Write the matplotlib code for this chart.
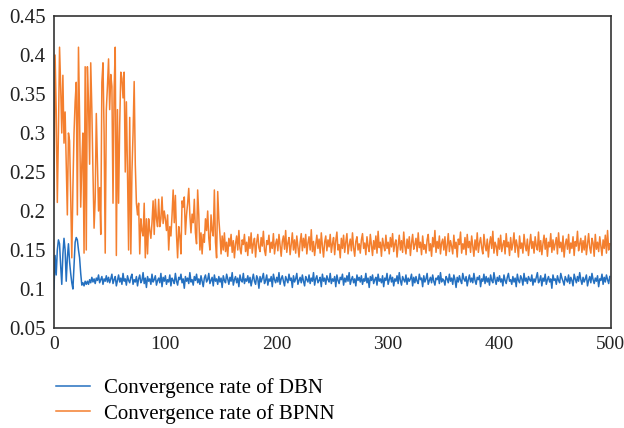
#!/usr/bin/env python3
# Convergence rate of DBN vs BPNN over 500 iterations
import numpy as np
import matplotlib
matplotlib.use("Agg")
import matplotlib.pyplot as plt

# values in thousandths
dbn_start = [100, 143, 118, 150, 163, 158, 130, 106, 145, 165, 150, 110, 140, 158, 135,
             120, 108, 100, 130, 160, 166, 163, 150, 140, 120, 105, 108, 104, 110, 106]
dbn_rest = [
    110, 106, 112, 108, 115, 109, 113, 107, 114, 111, 118, 108, 112, 116, 106, 113, 110, 117, 109, 115,
    108, 113, 119, 107, 112, 116, 104, 111, 118, 109, 114, 106, 120, 110, 113, 105, 117, 111, 108, 115, 119, 106, 112, 109, 116,
    104, 113, 118, 108, 111, 121, 107, 114, 102, 116, 110, 113, 106, 119, 109, 112, 117, 105, 111, 114, 108, 120, 103, 115, 110,
    117, 106, 112, 109, 118, 104, 114, 111, 107, 120, 110, 105, 115, 112, 119, 108, 113, 101, 116, 110, 114, 107, 121, 109, 112,
    105, 116, 111, 119, 108, 113, 106, 117, 110, 103, 114, 118, 109, 112, 120, 107, 111, 115, 104, 118, 110, 113, 106, 116, 109,
    114, 102, 117, 111, 108, 119, 113, 106, 115, 110, 121, 105, 112, 116, 108, 114, 103, 118, 111, 109, 120, 107, 113, 110, 117,
    108, 115, 104, 112, 119, 110, 106, 117, 113, 101, 116, 109, 114, 120, 107, 111, 118, 105, 113, 110, 116, 103, 119, 112, 108,
    115, 109, 121, 106, 113, 117, 110, 104, 116, 112, 108, 119, 111, 114, 102, 117, 109, 113, 120, 106, 111, 115, 108, 118, 110,
    104, 116, 112, 109, 118, 107, 114, 110, 121, 105, 113, 117, 108, 111, 115, 103, 119, 110, 114, 106, 117, 112, 109, 120, 107,
    113, 110, 116, 103, 118, 111, 107, 115, 112, 119, 105, 114, 109, 117, 110, 121, 106, 112, 116, 108, 113, 104, 118, 111, 115,
    109, 117, 106, 113, 110, 120, 108, 114, 102, 116, 111, 118, 107, 112, 115, 105, 119, 110, 113, 108, 117, 103, 114, 111, 120,
    106, 112, 118, 109, 115, 104, 113, 110, 117, 107, 121, 111, 105, 116, 112, 109, 118, 106, 114, 110, 113, 119, 104, 115, 108,
    116, 110, 107, 119, 112, 114, 103, 117, 109, 113, 120, 106, 111, 115, 108, 118, 110, 105, 114, 112, 117, 107, 121, 109, 113,
    111, 105, 116, 113, 108, 119, 110, 114, 106, 118, 112, 102, 115, 109, 117, 111, 107, 120, 113, 110, 116, 104, 112, 118, 109,
    114, 108, 120, 111, 106, 115, 112, 117, 103, 113, 110, 119, 107, 116, 109, 114, 105, 118, 111, 108, 121, 112, 106, 115, 110,
    117, 109, 113, 104, 118, 111, 107, 115, 120, 110, 112, 106, 116, 109, 114, 103, 119, 111, 108, 117, 113, 105, 120, 110, 114,
    107, 116, 112, 110, 118, 105, 113, 109, 115, 121, 108, 111, 117, 104, 114, 110, 119, 106, 112, 116, 109, 113, 101, 118, 111,
    113, 106, 117, 111, 108, 120, 114, 110, 105, 116, 112, 109, 118, 107, 115, 111, 104, 119, 113, 108, 116, 110, 121, 112, 106,
    115, 109, 113, 118, 104, 111, 116, 108, 120, 112, 107, 114, 110, 117, 103, 113, 111, 119, 106, 115, 109, 118, 112, 107, 116]

bpnn_start = [
    215, 400, 330, 211, 300, 410, 360, 300, 374, 287, 327, 260, 195, 300, 290, 220, 140, 230, 300, 340,
    365, 195, 410, 320, 205, 260, 300, 146, 385, 150, 385, 340, 260, 390, 330, 250, 178, 215, 325, 260,
    200, 230, 170, 365, 390, 300, 146, 330, 360, 395, 330, 375, 360, 210, 355, 410, 143, 330, 210, 310,
    378, 370, 345, 378, 250, 340, 250, 150, 320, 145, 250, 300, 366, 260, 210, 195, 210, 145, 190, 175,
    168, 210, 140, 190, 145, 190, 175, 165, 185, 213, 170, 215, 190, 180, 215, 180, 190, 218, 184, 200,
    190, 175, 195, 150, 180, 168, 195, 227, 185, 220, 170, 140, 180, 168, 145, 213, 205, 218, 170, 195,
    210, 229, 195, 172, 196, 185, 215, 172, 158, 227, 195, 150, 172, 145, 170, 160, 190, 175, 200, 165,
    150, 195, 175, 168, 227, 160, 140, 225, 190, 170]
bpnn_rest = [
    145, 168, 150, 172, 148, 160, 142, 165, 155, 170, 147, 162, 140, 158, 168, 150, 175, 152, 145, 163, 157, 170, 148, 160, 143,
    167, 152, 172, 146, 158, 165, 141, 160, 170, 153, 148, 166, 155, 174, 150, 143, 162, 157, 169, 147, 160, 152, 171, 145, 158,
    164, 149, 170, 156, 142, 161, 168, 151, 175, 147, 159, 166, 144, 157, 172, 150, 163, 146, 168, 155, 141, 160, 171, 149, 165,
    153, 170, 145, 159, 167, 150, 176, 148, 161, 143, 157, 169, 152, 164, 146, 172, 155, 141, 160, 168, 149, 163, 154, 170, 147,
    158, 166, 144, 162, 173, 150, 157, 140, 165, 152, 169, 147, 160, 171, 145, 156, 164, 149, 172, 153, 142, 161, 167, 150, 158,
    146, 163, 171, 152, 159, 144, 167, 155, 148, 170, 157, 143, 162, 151, 168, 146, 174, 153, 160, 142, 165, 156, 149, 169, 152,
    160, 145, 166, 154, 171, 148, 158, 163, 141, 156, 169, 150, 162, 147, 173, 155, 145, 164, 152, 167, 143, 159, 170, 151, 157,
    165, 148, 172, 153, 160, 144, 168, 151, 157, 146, 163, 170, 149, 158, 142, 166, 154, 175, 147, 161, 152, 168, 145, 159, 164,
    150, 167, 143, 156, 171, 148, 162, 155, 145, 169, 152, 160, 141, 164, 157, 173, 146, 158, 151, 166, 144, 170, 153, 161, 147,
    168, 155, 142, 163, 150, 172, 147, 159, 166, 153, 145, 170, 156, 149, 164, 141, 158, 167, 152, 174, 146, 160, 155, 143, 165,
    151, 169, 148, 157, 162, 145, 171, 154, 160, 143, 166, 150, 158, 172, 147, 163, 155, 141, 168, 152, 159, 146, 170, 156, 149,
    164, 143, 157, 170, 152, 161, 146, 167, 155, 150, 173, 148, 162, 144, 158, 169, 151, 165, 142, 160, 154, 171, 147, 163, 150,
    158, 166, 145, 172, 153, 160, 148, 168, 141, 157, 164, 151, 170, 146, 159, 152, 167, 143, 161, 155, 174, 149, 158, 165, 147,
    162, 150, 168, 144, 157, 171, 153, 146, 165, 159, 142, 170, 151, 160, 148, 167, 155, 143, 163, 152, 169, 146, 175, 150, 158]

dbn = np.array(dbn_start + dbn_rest) / 1000
bpnn = np.array(bpnn_start + bpnn_rest) / 1000
iters = np.arange(len(dbn))

plt.rcParams["font.family"] = ["Liberation Serif", "DejaVu Serif"]

fig = plt.figure(figsize=(6.24, 4.28), dpi=100)
ax = fig.add_axes([0.0865, 0.2336, 0.8925, 0.729])
ax.plot(iters, dbn, color="#2470C0", lw=1.1, label="Convergence rate of DBN")
ax.plot(iters, bpnn, color="#F47F2E", lw=1.1, label="Convergence rate of BPNN")

ax.set_xlim(0, 500)
ax.set_ylim(0.05, 0.45)
ax.set_xticks([0, 100, 200, 300, 400, 500])
ax.set_yticks([0.05, 0.1, 0.15, 0.2, 0.25, 0.3, 0.35, 0.4, 0.45])
ax.set_yticklabels(["0.05", "0.1", "0.15", "0.2", "0.25", "0.3", "0.35", "0.4", "0.45"])
ax.tick_params(length=0, colors="#222222")
ax.tick_params(axis="y", pad=6, labelsize=15)
ax.tick_params(axis="x", pad=6, labelsize=14)
for sp in ax.spines.values():
    sp.set_color("#333333")
    sp.set_linewidth(1.2)

fig.legend(loc="upper left", bbox_to_anchor=(0.077, 0.135), frameon=False,
           fontsize=15, handlelength=1.6, handletextpad=0.7, labelspacing=0.25,
           borderaxespad=0)

fig.savefig("out.png", dpi=100)
plt.close(fig)
